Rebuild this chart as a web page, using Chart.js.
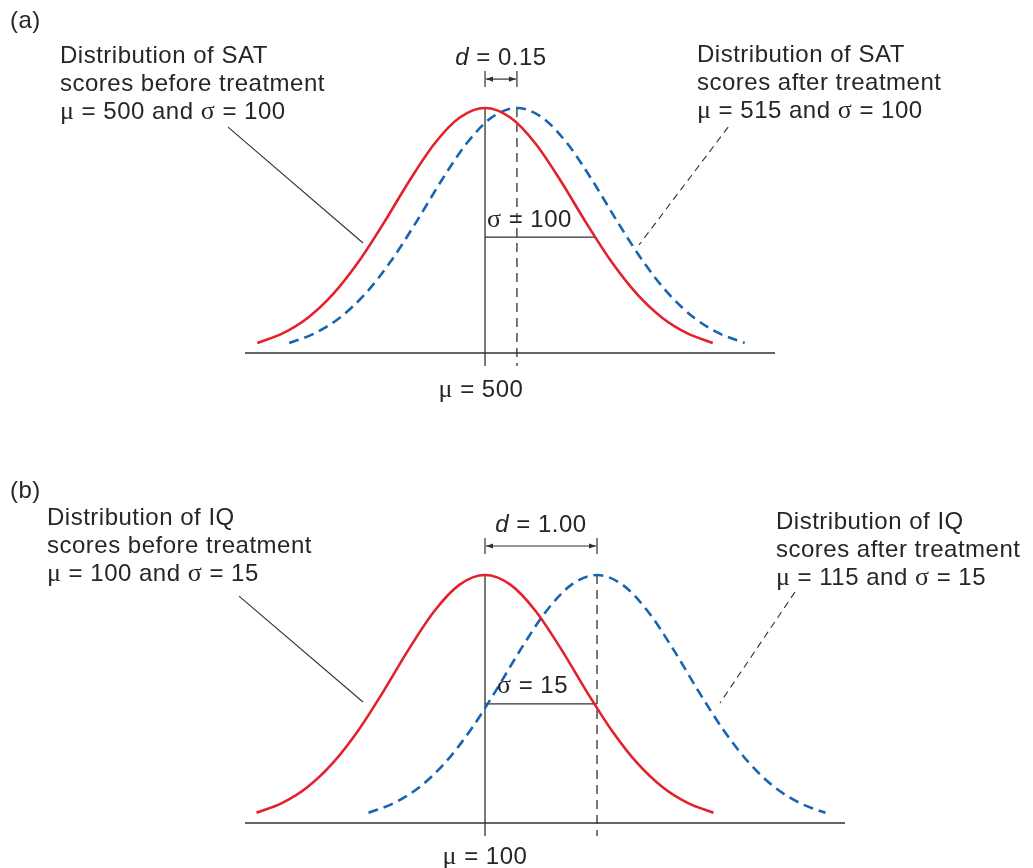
<!DOCTYPE html>
<html>
<head>
<meta charset="utf-8">
<script src="https://cdn.jsdelivr.net/npm/chart.js@4.4.1/dist/chart.umd.min.js"></script>
<style>
  html,body{margin:0;padding:0;background:#fff;}
  body{width:1033px;height:868px;position:relative;overflow:hidden;font-family:"Liberation Sans",Arial,sans-serif;color:#262626;}
  canvas{position:absolute;left:0;}
  .t{position:absolute;font-size:24px;line-height:27.8px;white-space:nowrap;letter-spacing:0.5px;z-index:2;}
  .g{font-family:"Liberation Serif",serif;font-size:26px;line-height:0;}
  .c{text-align:center;width:200px;}
</style>
</head>
<body>
<canvas id="ca" width="1033" height="434" style="top:0"></canvas>
<canvas id="cb" width="1033" height="434" style="top:434px"></canvas>
<div id="txt"></div>
<script>
// ---------- data ----------
// (a) SAT scores
const satBeforeX = [293,316,339,362,385,408,431,454,477,500,523,546,569,592,615,638,661,684,707];
const satBeforeY = [0.041,0.080,0.144,0.241,0.372,0.531,0.701,0.854,0.961,1,0.961,0.854,0.701,0.531,0.372,0.241,0.144,0.080,0.041];
const satAfterX  = [322,345,368,391,414,437,460,483,506,529,552,575,598,621,644,667,690,713,736];
const satAfterY  = [0.041,0.080,0.144,0.241,0.372,0.531,0.701,0.854,0.961,1,0.961,0.854,0.701,0.531,0.372,0.241,0.144,0.080,0.041];
const satMeans = [500, 529];
const satSigma = 100;
const satSigmaHeight = 0.473;

// (b) IQ scores
const iqBeforeX = [69.4,72.8,76.2,79.6,83,86.4,89.8,93.2,96.6,100,103.4,106.8,110.2,113.6,117,120.4,123.8,127.2,130.6];
const iqBeforeY = [0.041,0.080,0.144,0.241,0.372,0.531,0.701,0.854,0.961,1,0.961,0.854,0.701,0.531,0.372,0.241,0.144,0.080,0.041];
const iqAfterX  = [84.4,87.8,91.2,94.6,98,101.4,104.8,108.2,111.6,115,118.4,121.8,125.2,128.6,132,135.4,138.8,142.2,145.6];
const iqAfterY  = [0.041,0.080,0.144,0.241,0.372,0.531,0.701,0.854,0.961,1,0.961,0.854,0.701,0.531,0.372,0.241,0.144,0.080,0.041];
const iqMeans = [100, 115];
const iqSigma = 15;
const iqSigmaHeight = 0.480;

// text
const panelLetters = ['(a)', '(b)'];
const satBeforeLabel = ['Distribution of SAT', 'scores before treatment', 'μ = 500 and σ = 100'];
const satAfterLabel  = ['Distribution of SAT', 'scores after treatment', 'μ = 515 and σ = 100'];
const iqBeforeLabel  = ['Distribution of IQ', 'scores before treatment', 'μ = 100 and σ = 15'];
const iqAfterLabel   = ['Distribution of IQ', 'scores after treatment', 'μ = 115 and σ = 15'];
const effectLabels = ['d = 0.15', 'd = 1.00'];
const sigmaLabels  = ['σ = 100', 'σ = 15'];
const meanLabels   = ['μ = 500', 'μ = 100'];

// ---------- drawing ----------
const INK = '#303030';
const annotPlugin = {
  id: 'annot',
  beforeDatasetsDraw(chart, args, o) {
    const ctx = chart.ctx, xs = chart.scales.x, ys = chart.scales.y;
    const X = v => xs.getPixelForValue(v), Y = v => ys.getPixelForValue(v);
    const seg = (x1, y1, x2, y2) => { ctx.beginPath(); ctx.moveTo(x1, y1); ctx.lineTo(x2, y2); ctx.stroke(); };
    ctx.save();
    ctx.strokeStyle = INK; ctx.fillStyle = INK; ctx.lineWidth = 1.3;
    // baseline
    seg(xs.left, Y(0), xs.right, Y(0));
    // mean lines
    seg(X(o.means[0]), Y(1), X(o.means[0]), Y(0) + 13);
    ctx.setLineDash([9, 6]);
    seg(X(o.means[1]), Y(1), X(o.means[1]), Y(0) + 13);
    ctx.setLineDash([]);
    // sigma line
    seg(X(o.means[0]), Y(o.sigmaH), X(o.means[0] + o.sigma), Y(o.sigmaH));
    // d arrow
    const ay = Y(o.arrowY), a1 = X(o.means[0]), a2 = X(o.means[1]);
    ctx.lineWidth = 1.2;
    seg(a1, ay - 8, a1, ay + 8);
    seg(a2, ay - 8, a2, ay + 8);
    seg(a1 + 1, ay, a2 - 1, ay);
    ctx.beginPath(); ctx.moveTo(a1 + 1, ay); ctx.lineTo(a1 + 8, ay - 2.6); ctx.lineTo(a1 + 8, ay + 2.6); ctx.closePath(); ctx.fill();
    ctx.beginPath(); ctx.moveTo(a2 - 1, ay); ctx.lineTo(a2 - 8, ay - 2.6); ctx.lineTo(a2 - 8, ay + 2.6); ctx.closePath(); ctx.fill();
    // leader lines
    ctx.lineWidth = 1.1;
    const L = o.leaders;
    seg(X(L[0][0]), Y(L[0][1]), X(L[0][2]), Y(L[0][3]));
    ctx.setLineDash([7, 5]);
    seg(X(L[1][0]), Y(L[1][1]), X(L[1][2]), Y(L[1][3]));
    ctx.restore();
  }
};

function makeChart(id, bx, by, axX, ayY, xmin, xmax, pad, ann) {
  return new Chart(document.getElementById(id), {
    type: 'line',
    data: {
      datasets: [
        { data: bx.map((v, i) => ({ x: v, y: by[i] })), borderColor: '#e4212a', borderWidth: 2.6,
          pointRadius: 0, cubicInterpolationMode: 'monotone', clip: false, fill: false },
        { data: axX.map((v, i) => ({ x: v, y: ayY[i] })), borderColor: '#1764b4', borderWidth: 2.6,
          borderDash: [10, 6], pointRadius: 0, cubicInterpolationMode: 'monotone', clip: false, fill: false }
      ]
    },
    options: {
      responsive: false, animation: false, devicePixelRatio: 1, events: [],
      layout: { padding: pad },
      scales: {
        x: { type: 'linear', display: false, min: xmin, max: xmax },
        y: { display: false, min: 0, max: 1 }
      },
      plugins: { legend: { display: false }, tooltip: { enabled: false }, annot: ann }
    },
    plugins: [annotPlugin]
  });
}

makeChart('ca', satBeforeX, satBeforeY, satAfterX, satAfterY, 281.8, 763.6,
  { left: 245, right: 258, top: 108, bottom: 81 },
  { means: satMeans, sigma: satSigma, sigmaH: satSigmaHeight, arrowY: 1.118,
    leaders: [[266.4, 0.922, 389.1, 0.449], [721, 0.922, 640, 0.441]] });

makeChart('cb', iqBeforeX, iqBeforeY, iqAfterX, iqAfterY, 67.86, 148.21,
  { left: 245, right: 188, top: 141, bottom: 45 },
  { means: iqMeans, sigma: iqSigma, sigmaH: iqSigmaHeight, arrowY: 1.117,
    leaders: [[67.06, 0.915, 83.66, 0.488], [141.5, 0.931, 131.47, 0.484]] });

// ---------- text ----------
const esc = s => s.replace(/[μσ]/g, m => '<span class="g">' + m + '</span>');
const dfmt = s => s.replace(/^d/, '<i>d</i>');
const txt = document.getElementById('txt');
function put(html, left, top, cls) {
  const d = document.createElement('div');
  d.className = 't' + (cls ? ' ' + cls : '');
  d.style.left = left + 'px'; d.style.top = top + 'px';
  d.innerHTML = html; txt.appendChild(d);
}
put(panelLetters[0], 10, 6);
put(panelLetters[1], 10, 476);
put(satBeforeLabel.map(esc).join('<br>'), 60, 41);
put(satAfterLabel.map(esc).join('<br>'), 697, 40);
put(iqBeforeLabel.map(esc).join('<br>'), 47, 503);
put(iqAfterLabel.map(esc).join('<br>'), 776, 507);
put(dfmt(effectLabels[0]), 401, 43, 'c');
put(dfmt(effectLabels[1]), 441, 510, 'c');
put(esc(sigmaLabels[0]), 487, 205);
put(esc(sigmaLabels[1]), 497, 671);
put(esc(meanLabels[0]), 381, 375, 'c');
put(esc(meanLabels[1]), 385, 842, 'c');
</script>
</body>
</html>
